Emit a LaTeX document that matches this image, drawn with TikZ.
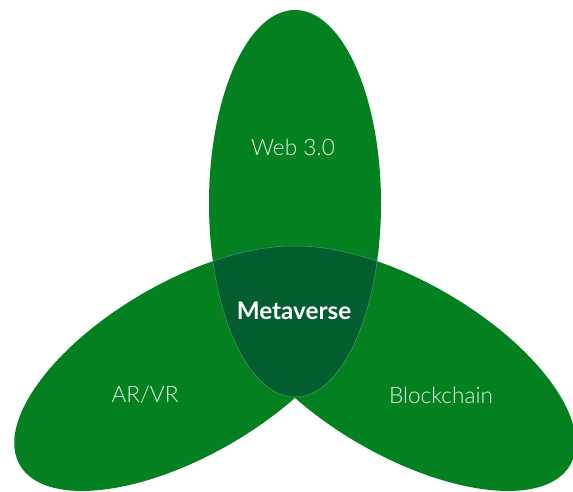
\documentclass[tikz,border=0pt]{standalone}
\usepackage{fontspec}
\newfontfamily\petalfont{Lato}[UprightFont={* Light}, BoldFont={* Bold}]
\definecolor{petalgreen}{HTML}{038020}
\definecolor{coregreen}{HTML}{035E2F}
\definecolor{labelgrey}{HTML}{E6F2E6}
\tikzstyle{petal} = [fill=petalgreen]
\tikzstyle{core} = [fill=coregreen]
\tikzstyle{seam} = [draw=white, draw opacity=0.3, line width=0.4pt]
\tikzstyle{petallabel} = [text=labelgrey, font=\petalfont\fontsize{19.3}{22}\selectfont]
\tikzstyle{corelabel} = [text=white, font=\petalfont\bfseries\fontsize{20.7}{22}\selectfont]

\begin{document}
\begin{tikzpicture}[x=0.03cm, y=-0.03cm]
		\useasboundingbox (0,0) rectangle (573,491);
		\coordinate (webc) at (295,203.5);
		\coordinate (arvrc) at (187,368.5);
		\coordinate (chainc) at (403,368.5);
		% three petals
		\fill[petal] (webc) ellipse [x radius=86, y radius=193.5];
		\fill[petal, rotate around={30:(arvrc)}] (arvrc) ellipse [x radius=193, y radius=87];
		\fill[petal, rotate around={-30:(chainc)}] (chainc) ellipse [x radius=193, y radius=87];
		% dark middle
		\begin{scope}
		\clip (webc) ellipse [x radius=86, y radius=193.5];
		\fill[core, rotate around={30:(arvrc)}] (arvrc) ellipse [x radius=193, y radius=87];
		\fill[core, rotate around={-30:(chainc)}] (chainc) ellipse [x radius=193, y radius=87];
		\end{scope}
		% faint seams
		\begin{scope}
		\clip[rotate around={30:(arvrc)}] (arvrc) ellipse [x radius=193, y radius=87];
		\draw[seam] (webc) ellipse [x radius=86, y radius=193.5];
		\end{scope}
		\begin{scope}
		\clip[rotate around={-30:(chainc)}] (chainc) ellipse [x radius=193, y radius=87];
		\draw[seam] (webc) ellipse [x radius=86, y radius=193.5];
		\end{scope}
		\begin{scope}
		\clip (webc) ellipse [x radius=86, y radius=193.5];
		\clip (0,0) rectangle (295,491);
		\draw[seam, rotate around={30:(arvrc)}] (arvrc) ellipse [x radius=193, y radius=87];
		\end{scope}
		\begin{scope}
		\clip (webc) ellipse [x radius=86, y radius=193.5];
		\clip (295,0) rectangle (573,491);
		\draw[seam, rotate around={-30:(chainc)}] (chainc) ellipse [x radius=193, y radius=87];
		\end{scope}
		% labels
		\node (web) [petallabel] at (293,147) {Web 3.0};
		\node (meta) [corelabel] at (294,311) {Metaverse};
		\node (arvr) [petallabel] at (145,395) {AR/VR};
		\node (chain) [petallabel] at (441,395) {Blockchain};
\end{tikzpicture}
\end{document}
